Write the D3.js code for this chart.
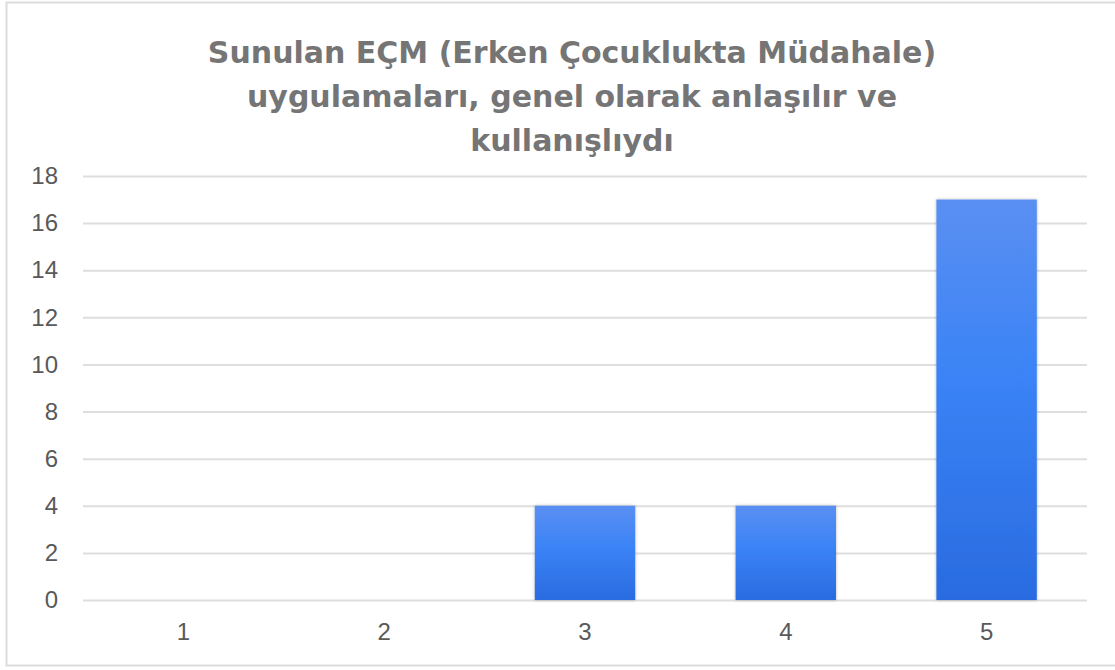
<!DOCTYPE html>
<html>
  <head>
    <meta charset="utf-8">
    <script src="https://d3js.org/d3.v7.min.js"></script>
  </head>
  <style>
    body { margin: 0; background: #fff; }
  </style>
  <body>
    <svg></svg>
    <script>
      // chart data
      const titleLines = ["Sunulan EÇM (Erken Çocuklukta Müdahale)", "uygulamaları, genel olarak anlaşılır ve", "kullanışlıydı"];
      const categories = ["1", "2", "3", "4", "5"];
      const counts = [0, 0, 4, 4, 17];
      const yTicks = [0, 2, 4, 6, 8, 10, 12, 14, 16, 18];

      const W = 1115, H = 670;
      const svg = d3.select("svg").attr("width", W).attr("height", H);

      // outer frame
      svg.append("rect")
        .attr("x", 6.5).attr("y", 2.5)
        .attr("width", 1120).attr("height", 663)
        .attr("fill", "none").attr("stroke", "#dcdcdc").attr("stroke-width", 2);

      const defs = svg.append("defs");
      const grad = defs.append("linearGradient").attr("id", "barGrad")
        .attr("x1", 0).attr("y1", 0).attr("x2", 0).attr("y2", 1);
      grad.append("stop").attr("offset", "0%").attr("stop-color", "#5a8ff2");
      grad.append("stop").attr("offset", "45%").attr("stop-color", "#3a83f6");
      grad.append("stop").attr("offset", "100%").attr("stop-color", "#2a6be0");

      const shadow = defs.append("filter").attr("id", "shadow")
        .attr("x", "-10%").attr("y", "-10%").attr("width", "120%").attr("height", "120%");
      shadow.append("feDropShadow").attr("dx", 0).attr("dy", 0)
        .attr("stdDeviation", 1.5).attr("flood-color", "#000").attr("flood-opacity", 0.3);

      // title
      svg.append("g").selectAll("text")
        .data(titleLines)
        .join("text")
        .attr("x", 572)
        .attr("y", (d, i) => 63 + i * 44)
        .attr("text-anchor", "middle")
        .attr("font-family", "DejaVu Sans")
        .attr("font-weight", "bold")
        .attr("font-size", 30)
        .attr("fill", "#757575")
        .text(d => d);

      const x = d3.scaleBand().domain(categories).range([83, 1087]).paddingInner(0.5).paddingOuter(0.25);
      const y = d3.scaleLinear().domain([0, 18]).range([600, 176]);

      // gridlines
      svg.append("g").selectAll("line")
        .data(yTicks)
        .join("line")
        .attr("x1", 83).attr("x2", 1087)
        .attr("y1", d => y(d) + 0.5).attr("y2", d => y(d) + 0.5)
        .attr("stroke", "#dedede").attr("stroke-width", 2);

      // y axis labels
      const yAxis = svg.append("g")
        .attr("transform", "translate(58,0)")
        .call(d3.axisLeft(y).tickValues(yTicks).tickSize(0).tickPadding(0));
      yAxis.select(".domain").remove();
      yAxis.selectAll("text")
        .attr("font-family", "Liberation Sans, Arial, sans-serif")
        .attr("font-size", 24).attr("fill", "#595959");

      // x axis labels
      const xAxis = svg.append("g")
        .attr("transform", "translate(0,623)")
        .call(d3.axisBottom(x).tickSize(0).tickPadding(0));
      xAxis.select(".domain").remove();
      xAxis.selectAll("text")
        .attr("font-family", "Liberation Sans, Arial, sans-serif")
        .attr("font-size", 24).attr("fill", "#595959");

      // bars
      svg.append("g").selectAll("rect")
        .data(counts.map((v, i) => ({ cat: categories[i], v })).filter(d => d.v > 0))
        .join("rect")
        .attr("x", d => x(d.cat))
        .attr("y", d => y(d.v))
        .attr("width", x.bandwidth())
        .attr("height", d => y(0) - y(d.v))
        .attr("fill", "url(#barGrad)")
        .attr("filter", "url(#shadow)");
    </script>
  </body>
</html>
